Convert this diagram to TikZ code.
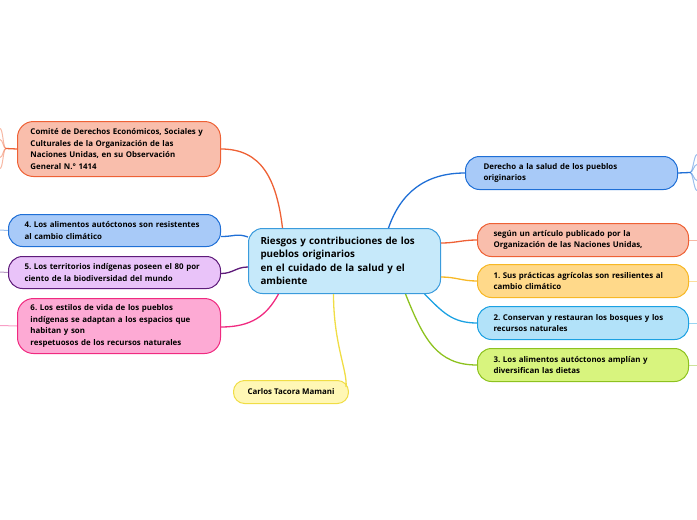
\documentclass[tikz,border=0pt]{standalone}
\usepackage{fontspec}
\setmainfont{Open Sans}
\usetikzlibrary{positioning, calc}

\definecolor{salmonF}{HTML}{F9BEAC}
\definecolor{salmonD}{HTML}{EE6135}
\definecolor{blueF}{HTML}{A8CAF8}
\definecolor{blueD}{HTML}{1F6FD6}
\definecolor{lilacF}{HTML}{E9C3F9}
\definecolor{lilacD}{HTML}{5E1B7A}
\definecolor{pinkF}{HTML}{FDAAD4}
\definecolor{pinkD}{HTML}{F02A80}
\definecolor{skyF}{HTML}{C6E9FA}
\definecolor{skyD}{HTML}{3A9BDC}
\definecolor{goldF}{HTML}{FFD98A}
\definecolor{goldD}{HTML}{F7B826}
\definecolor{cyanF}{HTML}{B2E2F9}
\definecolor{cyanD}{HTML}{1BA1E2}
\definecolor{limeF}{HTML}{D8F47E}
\definecolor{limeD}{HTML}{8DC21F}
\definecolor{lemonF}{HTML}{FFF7B5}
\definecolor{lemonD}{HTML}{F0DD45}

\begin{document}
\frenchspacing
\begin{tikzpicture}[x=1pt, y=-1pt,
    topic/.style={draw, line width=1pt, rounded corners=14pt, anchor=north west, align=left,
        inner xsep=14pt, inner ysep=0pt, font=\fontsize{7.9}{11.4}\selectfont\bfseries},
    link/.style={line width=1.3pt},
    stub/.style={line width=1pt, opacity=0.45}]
    \useasboundingbox (0,0) rectangle (697,520);

    % Central topic
    \node[topic, fill=skyF, draw=skyD, text width=168, inner xsep=12pt, minimum height=65,
        font=\fontsize{9.8}{13.4}\selectfont\bfseries] (centro) at (248,228)
        {Riesgos y contribuciones de los\\pueblos originarios\\en el cuidado de la salud y el\\ambiente};

    % Left branches
    \node[topic, fill=salmonF, draw=salmonD, text width=177, inner xsep=13pt, minimum height=55, rounded corners=16pt] (comite) at (17,121)
        {Comité de Derechos Económicos, Sociales y\\Culturales de la Organización de las\\Naciones Unidas, en su Observación\\General N.° 1414};
    \node[topic, fill=blueF, draw=blueD, text width=180, inner xsep=16pt, minimum height=32] (alim4) at (8,214)
        {4. Los alimentos autóctonos son resistentes\\al cambio climático};
    \node[topic, fill=lilacF, draw=lilacD, text width=180, inner xsep=16pt, minimum height=32] (terr5) at (8,256)
        {5. Los territorios indígenas poseen el 80 por\\ciento de la biodiversidad del mundo};
    \node[topic, fill=pinkF, draw=pinkD, text width=177, inner xsep=13pt, minimum height=55, rounded corners=16pt] (estilos6) at (17,298)
        {6. Los estilos de vida de los pueblos\\indígenas se adaptan a los espacios que\\habitan y son\\respetuosos de los recursos naturales};

    % Bottom
    \node[topic, fill=lemonF, draw=lemonD, align=center, minimum width=114, minimum height=23, rounded corners=11pt] (carlos) at (233,380)
        {Carlos Tacora Mamani};

    % Right branches
    \node[topic, fill=blueF, draw=blueD, text width=176, inner xsep=18pt, minimum height=33] (derecho) at (465,156)
        {Derecho a la salud de los pueblos\\originarios};
    \node[topic, fill=salmonF, draw=salmonD, text width=179, inner xsep=16pt, minimum height=33] (segun) at (477,223)
        {según un artículo publicado por la\\Organización de las Naciones Unidas,};
    \node[topic, fill=goldF, draw=goldD, text width=179, inner xsep=16pt, minimum height=33] (prac1) at (477,264)
        {1. Sus prácticas agrícolas son resilientes al\\cambio climático};
    \node[topic, fill=cyanF, draw=cyanD, text width=179, inner xsep=16pt, minimum height=33] (cons2) at (477,306)
        {2. Conservan y restauran los bosques y los\\recursos naturales};
    \node[topic, fill=limeF, draw=limeD, text width=179, inner xsep=16pt, minimum height=33] (alim3) at (477,348)
        {3. Los alimentos autóctonos amplían y\\diversifican las dietas};

    % Links from the central topic
    \draw[link, salmonD] ([xshift=-62pt]centro.north) .. controls +(-6,-50) and +(40,0) .. (comite.east);
    \draw[link, blueD] ([yshift=24pt]centro.west) .. controls +(-12,-4) and +(15,0) .. ([yshift=-6pt]alim4.east);
    \draw[link, lilacD] ([yshift=-6pt]centro.west) .. controls +(-12,0) and +(12,0) .. ([yshift=-1pt]terr5.east);
    \draw[link, pinkD] ([xshift=-66pt]centro.south) .. controls +(-12,22) and +(30,0) .. ([yshift=-1pt]estilos6.east);
    \draw[link, lemonD] ([xshift=-11pt]centro.south) .. controls +(0,50) and +(2,-15) .. ([xshift=-3pt,yshift=5pt]carlos.east);
    \draw[link, blueD] ([xshift=44pt]centro.north) .. controls +(12,-35) and +(-40,0) .. (derecho.west);
    \draw[link, salmonD] ([yshift=18pt]centro.east) .. controls +(15,0) and +(-15,0) .. (segun.west);
    \draw[link, goldD] ([yshift=-16pt]centro.east) .. controls +(15,0) and +(-15,0) .. (prac1.west);
    \draw[link, cyanD] ([xshift=80pt]centro.south) .. controls +(18,18) and +(-25,0) .. (cons2.west);
    \draw[link, limeD] ([xshift=61pt]centro.south) .. controls +(18,45) and +(-40,0) .. (alim3.west);

    % Collapsed branches at the edges
    \coordinate (comiteFan) at (6,148.5);
    \draw[link, salmonD] (comite.west) -- (comiteFan);
    \foreach \dy in {-20,-9,9,20}
        \draw[stub, salmonD] (comiteFan) .. controls +(-3,0) and +(3,0) .. ++(-6,\dy);
    \coordinate (derechoFan) at (690,172.5);
    \draw[link, blueD] (derecho.east) -- (derechoFan);
    \foreach \dy in {-18,-8,8,18}
        \draw[stub, blueD] (derechoFan) .. controls +(3,0) and +(-3,0) .. ++(7,\dy);

    \coordinate (alim4Out) at (0,230);
    \coordinate (terr5Out) at (0,272);
    \coordinate (estilos6Out) at (0,325.5);
    \draw[stub, blueD] (alim4.west) -- (alim4Out);
    \draw[stub, lilacD] (terr5.west) -- (terr5Out);
    \draw[stub, pinkD] (estilos6.west) -- (estilos6Out);
    \foreach \n/\c in {segun/salmonD, prac1/goldD, cons2/cyanD, alim3/limeD}
        \draw[stub, \c] (\n.east) -- (\n.east -| 697,0);
\end{tikzpicture}
\end{document}
